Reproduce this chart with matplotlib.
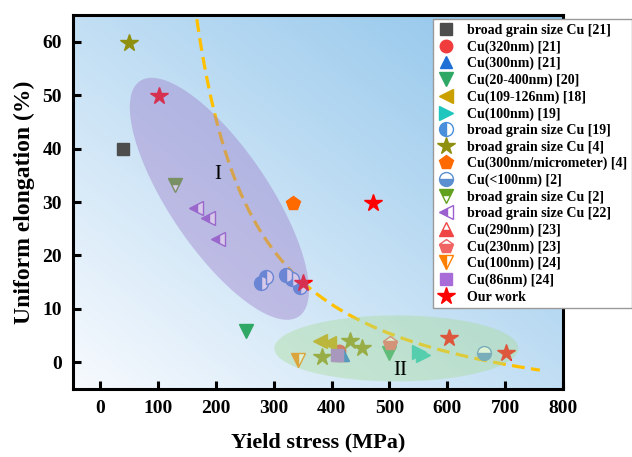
import numpy as np
import matplotlib
matplotlib.use("Agg")
import matplotlib.pyplot as plt
from matplotlib.patches import Polygon

plt.rcParams['font.family'] = ['Liberation Serif', 'DejaVu Serif']
plt.rcParams['font.weight'] = 'bold'

# ---- data (yield stress MPa, uniform elongation %) ----
sq21_x, sq21_y = [40], [40]
c320_x, c320_y = [412], [2.2]
t300_x, t300_y = [420], [1.4]
v20_x, v20_y = [252, 500], [5.8, 1.8]
l109_x, l109_y = [380, 395], [3.9, 3.7]
r100_x, r100_y = [551, 558], [1.9, 1.4]
h19_x, h19_y = [278, 287, 322, 331, 346], [14.8, 15.9, 16.3, 15.6, 14.0]
s4_x, s4_y = [50, 383, 432, 452], [59.8, 0.9, 3.9, 2.7]
p4_x, p4_y = [334], [29.9]
c100_x, c100_y = [664], [1.7]
v2_x, v2_y = [130], [33.1]
l22_x, l22_y = [165, 187, 203], [28.9, 27.0, 23.1]
t290_x, t290_y = [416], [1.6]
p230_x, p230_y = [501], [3.6]
v24_x, v24_y = [342], [0.5]
s86_x, s86_y = [409], [1.4]
ours_x, ours_y = [101, 351, 472, 603, 701], [49.9, 14.8, 29.9, 4.6, 1.8]

fig = plt.figure(figsize=(6.32, 4.57), dpi=100)
ax = fig.add_axes([73 / 632, 1 - 389 / 457, (563 - 73) / 632, (389 - 15) / 457])
xlim = (-47, 800)
ylim = (-5, 65)
ax.set_xlim(*xlim)
ax.set_ylim(*ylim)

# diagonal background gradient
n = 300
u = np.linspace(0, 1, n)
U, V = np.meshgrid(u, u)
t = (U + V) / 2
c0 = np.array([247, 250, 254]) / 255
c1 = np.array([140, 195, 234]) / 255
img = c0[None, None, :] * (1 - t[..., None]) + c1[None, None, :] * t[..., None]
ax.imshow(img, extent=(*xlim, *ylim), origin='lower', aspect='auto', zorder=0)

# trend curve
xc = np.linspace(167, 760, 300)
yc = 8038 / (xc - 62.9) - 13
ax.plot(xc, yc, color='#FFC000', lw=2.3, ls=(0, (4, 2)), zorder=1)

ms = 9
series = [
    (sq21_x, sq21_y, dict(marker='s', color='#4D4D4D', ms=8), 'broad grain size Cu [21]'),
    (c320_x, c320_y, dict(marker='o', color='#F03C3C', ms=ms), 'Cu(320nm) [21]'),
    (t300_x, t300_y, dict(marker='^', color='#1F6FD6', ms=ms), 'Cu(300nm) [21]'),
    (v20_x, v20_y, dict(marker='v', color='#2FA865', ms=ms + 1), 'Cu(20-400nm) [20]'),
    (l109_x, l109_y, dict(marker='<', color='#C9A000', ms=ms + 1), 'Cu(109-126nm) [18]'),
    (r100_x, r100_y, dict(marker='>', color='#1FC6BD', ms=ms + 1), 'Cu(100nm) [19]'),
    (h19_x, h19_y, dict(marker='o', color='#4A8FDB', fillstyle='left',
                        markerfacecoloralt='white', ms=ms + 1), 'broad grain size Cu [19]'),
    (s4_x, s4_y, dict(marker='*', color='#8F8F10', ms=13), 'broad grain size Cu [4]'),
    (p4_x, p4_y, dict(marker='p', color='#FF6A00', ms=ms + 1), 'Cu(300nm/micrometer) [4]'),
    (c100_x, c100_y, dict(marker='o', color='#5B8FD0', fillstyle='bottom',
                          markerfacecoloralt='white', ms=ms + 1), 'Cu(<100nm) [2]'),
    (v2_x, v2_y, dict(marker='v', color='#62A020', fillstyle='top',
                      markerfacecoloralt='white', ms=ms + 1), 'broad grain size Cu [2]'),
    (l22_x, l22_y, dict(marker='<', color='#9B5FCF', fillstyle='left',
                        markerfacecoloralt='white', ms=ms + 1), 'broad grain size Cu [22]'),
    (t290_x, t290_y, dict(marker='^', color='#F04545', fillstyle='bottom',
                          markerfacecoloralt='white', ms=ms + 1), 'Cu(290nm) [23]'),
    (p230_x, p230_y, dict(marker='p', color='#F06464', fillstyle='bottom',
                          markerfacecoloralt='white', ms=ms + 1), 'Cu(230nm) [23]'),
    (v24_x, v24_y, dict(marker='v', color='#FF8000', fillstyle='left',
                        markerfacecoloralt='white', ms=ms + 1), 'Cu(100nm) [24]'),
    (s86_x, s86_y, dict(marker='s', color='#A86CD8', ms=8), 'Cu(86nm) [24]'),
    (ours_x, ours_y, dict(marker='*', color='#FF0000', ms=13), 'Our work'),
]
# draw order so the grouped points overlap in the same way
order = [0, 1, 12, 2, 3, 4, 5, 6, 7, 8, 9, 10, 11, 13, 14, 15, 16]
handles = [None] * len(series)
for i in order:
    x, y, kw, lab = series[i]
    (h,) = ax.plot(x, y, ls='none', mew=1.0, label=lab, zorder=2, **kw)
    handles[i] = h


def ellipse_poly(cx, cy, a_px, b_px, ang_deg):
    """Ellipse defined in screen pixels, returned in data units."""
    px_x = ax.bbox.width / (xlim[1] - xlim[0])
    px_y = ax.bbox.height / (ylim[1] - ylim[0])
    th = np.deg2rad(ang_deg)
    s = np.linspace(0, 2 * np.pi, 200)
    dx = a_px * np.cos(th) * np.cos(s) - b_px * np.sin(th) * np.sin(s)
    dy = a_px * np.sin(th) * np.cos(s) + b_px * np.cos(th) * np.sin(s)
    return np.column_stack([cx + dx / px_x, cy + dy / px_y])


ax.add_patch(Polygon(ellipse_poly(206, 30.6, 142, 50, -56), closed=True,
                     facecolor='#9A78C8', alpha=0.4, lw=0, zorder=3))
ax.add_patch(Polygon(ellipse_poly(512, 2.6, 122, 33, 0), closed=True,
                     facecolor='#A8DC98', alpha=0.4, lw=0, zorder=3))

ax.text(203, 35.2, 'I', ha='center', va='center', fontsize=15,
        fontweight='normal', zorder=4)
ax.text(518, -1.6, 'II', ha='center', va='center', fontsize=15,
        fontweight='normal', zorder=4)

for side in ['left', 'bottom', 'right', 'top']:
    ax.spines[side].set_linewidth(2.2)
    ax.spines[side].set_zorder(4)
ax.set_xticks(range(0, 801, 100))
ax.set_yticks(range(0, 61, 10))
ax.tick_params(direction='in', length=6, width=2.2, labelsize=14, pad=8)
for lbl in ax.get_xticklabels() + ax.get_yticklabels():
    lbl.set_fontweight('bold')

ax.set_xlabel('Yield stress (MPa)', fontsize=16, fontweight='bold', labelpad=11)
ax.set_ylabel('Uniform elongation (%)', fontsize=17, fontweight='bold', labelpad=5)

leg = ax.legend(handles=handles, loc='upper left',
                bbox_to_anchor=(433 / 632, 1 - 19 / 457),
                bbox_transform=fig.transFigure, borderaxespad=0,
                prop={'weight': 'bold', 'size': 10},
                labelspacing=0.24, handlelength=1.2, handletextpad=0.9,
                borderpad=0.35, fancybox=False, framealpha=1,
                edgecolor='#9A9A9A', numpoints=1)
leg.get_frame().set_linewidth(1.0)
leg.set_zorder(6)

fig.savefig('out.png', dpi=100)
